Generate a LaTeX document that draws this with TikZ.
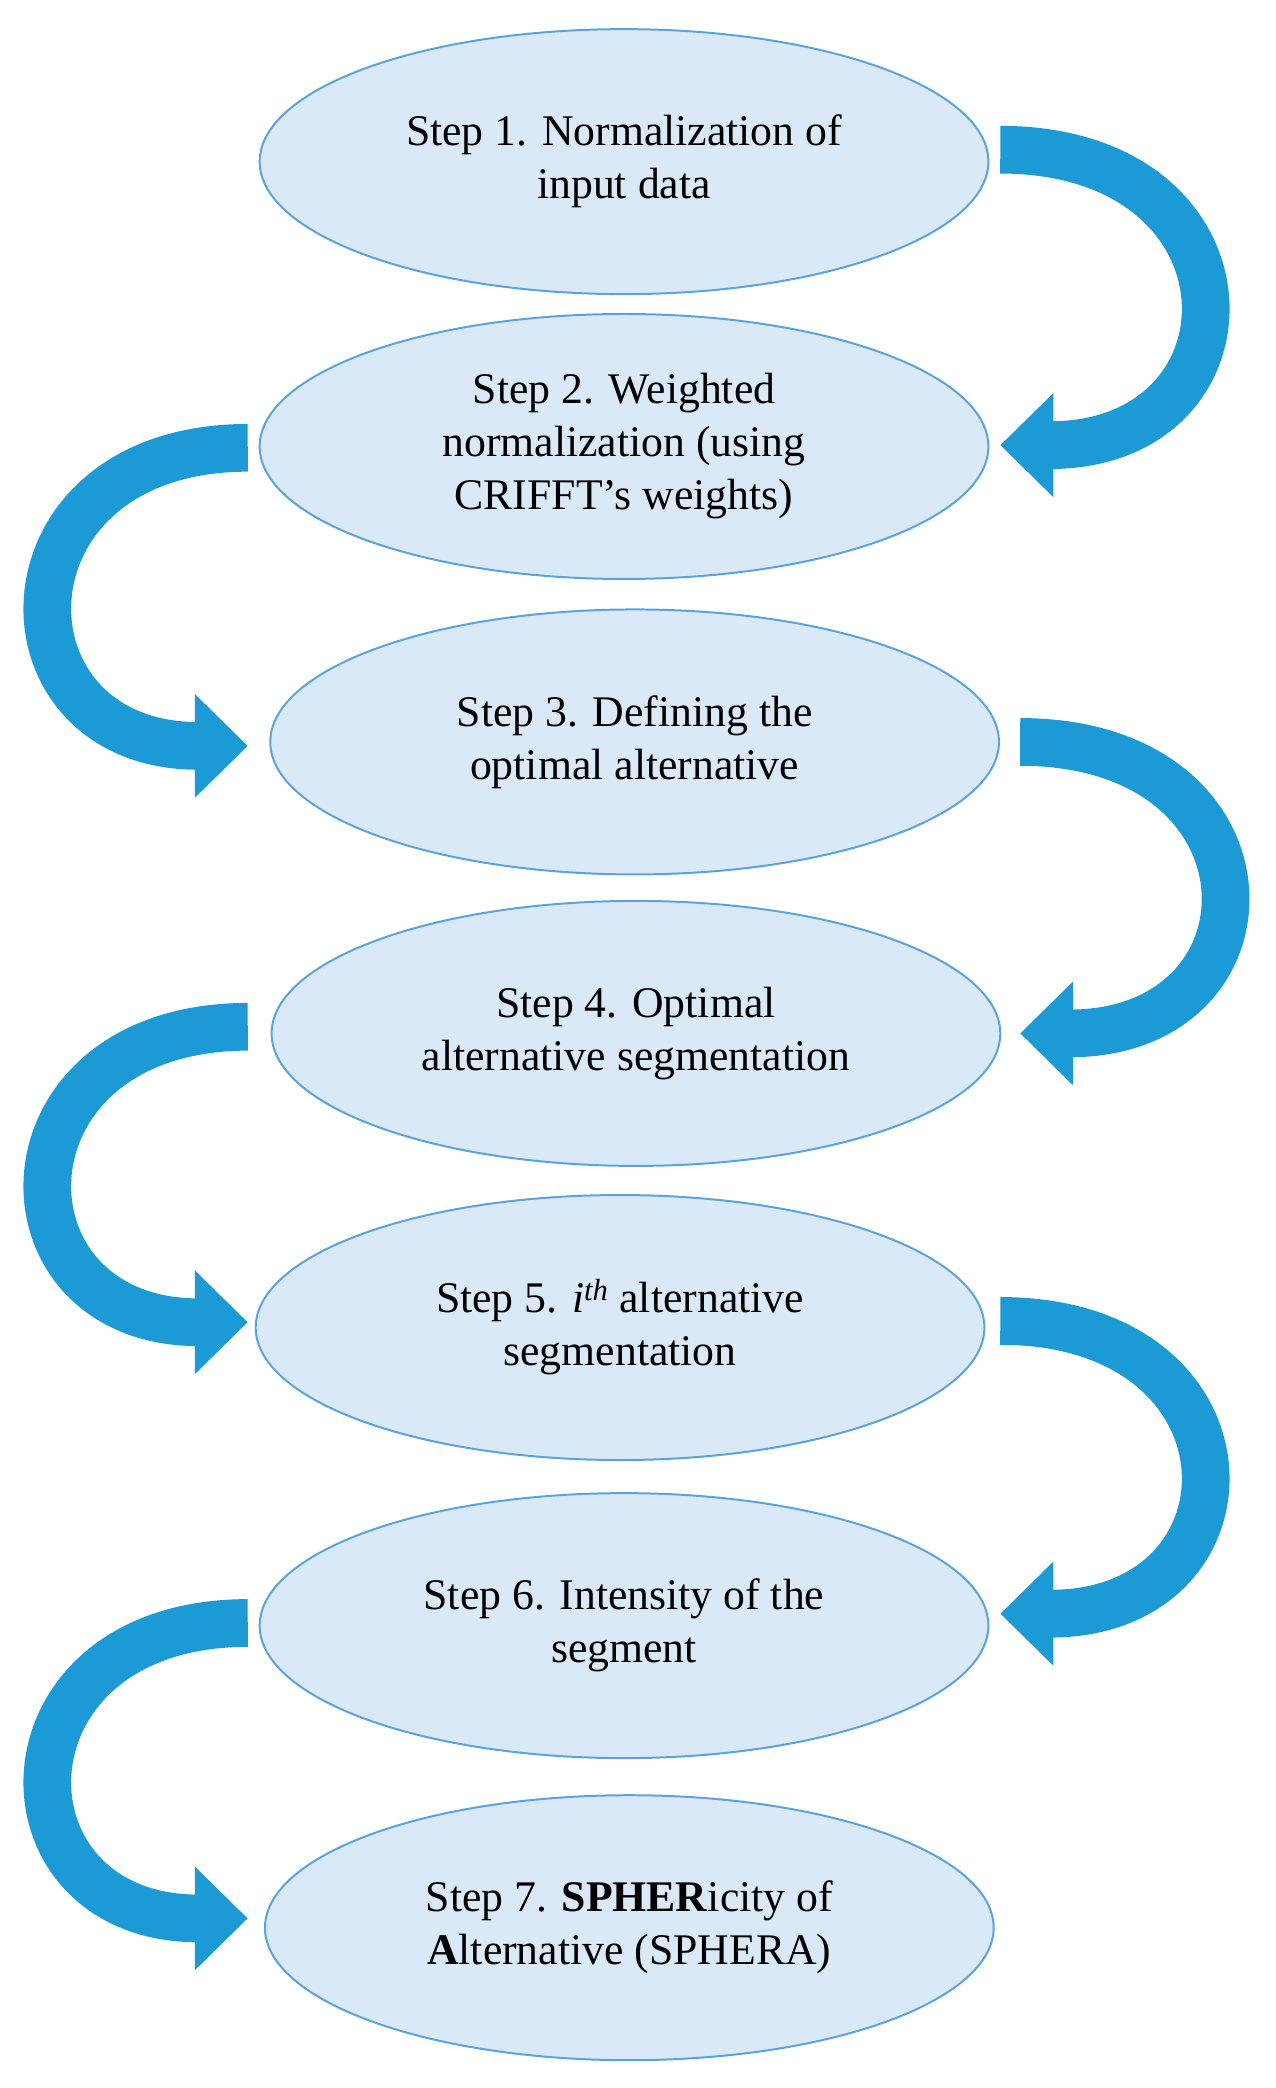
\documentclass[tikz,border=0pt]{standalone}
\usepackage{fontspec}
\setmainfont{Liberation Serif}
\usetikzlibrary{arrows.meta,shapes.geometric}
\definecolor{efill}{HTML}{DAE9F7}
\definecolor{edraw}{HTML}{5BA3DC}
\definecolor{arr}{HTML}{1B9AD6}
\begin{document}
\begin{tikzpicture}[x=1pt,y=-1pt,
  stepnode/.style={ellipse,draw=edraw,line width=1.5pt,fill=efill,minimum width=550pt,minimum height=200pt,inner sep=0pt,align=center,font=\fontsize{33}{40}\selectfont},
  flow/.style={arr,line width=36pt,line cap=butt,-{Triangle[width=76pt,length=40pt]}}]
\useasboundingbox (0,0) rectangle (963,1576);
\node[stepnode] (s1) at (471,122) {Step 1. Normalization of\\input data};
\node[stepnode] (s2) at (471,337) {Step 2. Weighted\\normalization (using\\CRIFFT’s weights)};
\node[stepnode] (s3) at (479,560) {Step 3. Defining the\\optimal alternative};
\node[stepnode] (s4) at (480,780) {Step 4. Optimal\\alternative segmentation};
\node[stepnode] (s5) at (468,1002) {Step 5. \textit{i\textsuperscript{th}} alternative\\segmentation};
\node[stepnode] (s6) at (471,1227) {Step 6. Intensity of the\\segment};
\node[stepnode] (s7) at (475,1455) {Step 7. \textbf{SPHER}icity of\\\textbf{A}lternative (SPHERA)};
\coordinate (a1s) at (755,113); \coordinate (a1e) at (755,336);
\coordinate (a2s) at (187,338); \coordinate (a2e) at (187,563);
\coordinate (a3s) at (770,560); \coordinate (a3e) at (770,780);
\coordinate (a4s) at (187,775); \coordinate (a4e) at (187,998);
\coordinate (a5s) at (755,997); \coordinate (a5e) at (755,1218);
\coordinate (a6s) at (187,1225); \coordinate (a6e) at (187,1448);
\draw[flow] (a1s) .. controls +(200,0) and +(200,0) .. (a1e);
\draw[flow] (a3s) .. controls +(200,0) and +(200,0) .. (a3e);
\draw[flow] (a5s) .. controls +(200,0) and +(200,0) .. (a5e);
\draw[flow] (a2s) .. controls +(-195,0) and +(-195,0) .. (a2e);
\draw[flow] (a4s) .. controls +(-195,0) and +(-195,0) .. (a4e);
\draw[flow] (a6s) .. controls +(-195,0) and +(-195,0) .. (a6e);
\end{tikzpicture}
\end{document}
